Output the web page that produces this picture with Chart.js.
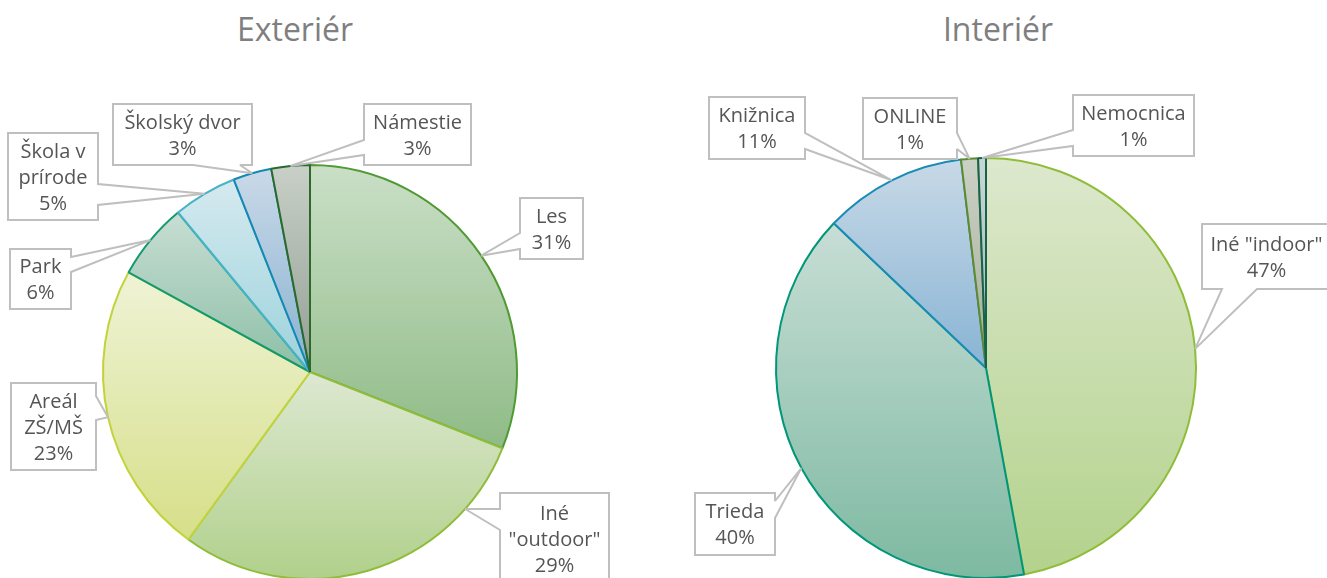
<!DOCTYPE html>
<html>
<head>
<meta charset="utf-8">
<script src="https://cdn.jsdelivr.net/npm/chart.js@4.4.1/dist/chart.umd.min.js"></script>
<style>
    html, body { margin: 0; padding: 0; background: #fff; width: 1327px; height: 578px; overflow: hidden; }
    .title { position: absolute; top: 9px; font-family: 'Open Sans', sans-serif; font-size: 32px; line-height: 40px; color: #7f7f7f; transform: translateX(-50%); white-space: nowrap; }
    .pie-box { position: absolute; top: 0; height: 600px; }
</style>
</head>
<body>
<div class="title" style="left:295px">Exteriér</div>
<div class="title" style="left:998px">Interiér</div>
<div class="pie-box" style="left:0; width:663px"><canvas id="extChart"></canvas></div>
<div class="pie-box" style="left:663px; width:664px"><canvas id="intChart"></canvas></div>
<script>
// Data
const extLabels = ['Les', ['Iné', '"outdoor"'], ['Areál', 'ZŠ/MŠ'], 'Park', ['Škola v', 'prírode'], 'Školský dvor', 'Námestie'];
const extValues = [31, 29, 23, 6, 5, 3, 3];

const intLabels = ['Iné "indoor"', 'Trieda', 'Knižnica', 'ONLINE', 'Nemocnica'];
const intValues = [47.1, 40.0, 11.0, 1.3, 0.6];

// Slice colours: gradient top, gradient bottom, border
const extTop    = ['#cadfc7', '#dde8d1', '#eff3d6', '#c8ded4', '#d5eaef', '#cad9e8', '#c8d0c8'];
const extBottom = ['#8fbb86', '#b0d08a', '#d6df88', '#8cbfa6', '#9cd2dc', '#88b2d0', '#939e93'];
const extBorder = ['#4f9a32', '#8fbd3a', '#c2d33a', '#14996f', '#46b3c6', '#1488b4', '#2b6a2a'];

const intTop    = ['#dde8cd', '#c8ded6', '#c8d9e7', '#cbd1c5', '#c8d6d6'];
const intBottom = ['#b3d28c', '#7db9a1', '#88b4d4', '#a6ae9e', '#a4b8b8'];
const intBorder = ['#8fbd3a', '#009678', '#1a8bb5', '#5c8a2c', '#17624a'];

// Callout boxes (canvas coords): box [x1,y1,x2,y2], side the pointer leaves from, pointer base on that side,
// at = where on the slice arc the pointer lands (0..1)
const extCallouts = [
    { box: [520, 198, 583, 259], side: 'left', base: [233, 249], at: 0.5 },
    { box: [500, 493, 609, 584], side: 'left', base: [509, 530], at: 0.19 },
    { box: [11, 383, 96, 470], side: 'right', base: [396, 420], at: 0.5 },
    { box: [10, 249, 71, 309], side: 'right', base: [257, 272], at: 0.5 },
    { box: [8, 133, 98, 220], side: 'right', base: [184, 205], at: 0.5 },
    { box: [113, 104, 252, 165], side: 'bottom', base: [193, 240], at: 0.5 },
    { box: [364, 104, 471, 165], side: 'left', base: [140, 155], at: 0.5 }
];
const intCallouts = [
    { box: [539, 224, 668, 289], side: 'bottom', base: [559, 594], at: 0.5 },
    { box: [32, 493, 112, 555], side: 'right', base: [501, 518], at: 0.5 },
    { box: [46, 97, 142, 159], side: 'right', base: [133, 149], at: 0.5 },
    { box: [200, 98, 294, 159], side: 'right', base: [133, 149], at: 0.5 },
    { box: [410, 95, 531, 156], side: 'left', base: [130, 146], at: 0.5 }
];

function sliceGradient(context, tops, bottoms) {
    const chart = context.chart;
    const area = chart.chartArea;
    const i = context.dataIndex;
    if (!area) return bottoms[i];
    const data = context.dataset.data;
    const total = data.reduce((a, b) => a + b, 0);
    let before = 0;
    for (let k = 0; k < i; k++) before += data[k];
    const a0 = -Math.PI / 2 + before / total * 2 * Math.PI;
    const a1 = a0 + data[i] / total * 2 * Math.PI;
    const cy = (area.top + area.bottom) / 2;
    const r = Math.min(area.width, area.height) / 2;
    let minY = cy, maxY = cy;
    for (let k = 0; k <= 60; k++) {
        const y = cy + r * Math.sin(a0 + (a1 - a0) * k / 60);
        minY = Math.min(minY, y);
        maxY = Math.max(maxY, y);
    }
    const g = chart.ctx.createLinearGradient(0, minY, 0, maxY + 1);
    g.addColorStop(0, tops[i]);
    g.addColorStop(1, bottoms[i]);
    return g;
}

function calloutPlugin(items) {
    return {
        id: 'callouts',
        afterDatasetsDraw(chart) {
            const c = chart.ctx;
            const meta = chart.getDatasetMeta(0);
            const ds = chart.data.datasets[0];
            const total = ds.data.reduce((a, b) => a + b, 0);
            items.forEach((it, i) => {
                const arc = meta.data[i];
                const p = arc.getProps(['x', 'y', 'startAngle', 'endAngle', 'outerRadius'], true);
                const ang = p.startAngle + (p.endAngle - p.startAngle) * it.at;
                const tx = p.x + p.outerRadius * Math.cos(ang);
                const ty = p.y + p.outerRadius * Math.sin(ang);
                const [x1, y1, x2, y2] = it.box;
                const [b0, b1] = it.base;

                c.save();
                c.beginPath();
                c.moveTo(x1, y1);
                if (it.side === 'top') { c.lineTo(b0, y1); c.lineTo(tx, ty); c.lineTo(b1, y1); }
                c.lineTo(x2, y1);
                if (it.side === 'right') { c.lineTo(x2, b0); c.lineTo(tx, ty); c.lineTo(x2, b1); }
                c.lineTo(x2, y2);
                if (it.side === 'bottom') { c.lineTo(b1, y2); c.lineTo(tx, ty); c.lineTo(b0, y2); }
                c.lineTo(x1, y2);
                if (it.side === 'left') { c.lineTo(x1, b1); c.lineTo(tx, ty); c.lineTo(x1, b0); }
                c.closePath();
                c.fillStyle = '#fff';
                c.fill();
                c.lineWidth = 2;
                c.lineJoin = 'miter';
                c.miterLimit = 2;
                c.strokeStyle = '#bfbfbf';
                c.stroke();

                // label text + percentage
                const lbl = chart.data.labels[i];
                const lines = Array.isArray(lbl) ? lbl.slice() : [lbl];
                lines.push(Math.round(ds.data[i] / total * 100) + '%');
                c.font = '20px "Open Sans", sans-serif';
                c.fillStyle = '#555555';
                c.textAlign = 'center';
                c.textBaseline = 'alphabetic';
                const cx = (x1 + x2) / 2;
                const cy = (y1 + y2) / 2;
                lines.forEach((t, k) => {
                    const lineY = cy + (k - (lines.length - 1) / 2) * 26;
                    c.fillText(t, cx, lineY + 7);
                });
                c.restore();
            });
        }
    };
}

function makePie(id, labels, values, tops, bottoms, borders, callouts, padding) {
    return new Chart(document.getElementById(id), {
        type: 'pie',
        data: {
            labels: labels,
            datasets: [{
                data: values,
                backgroundColor: ctx => sliceGradient(ctx, tops, bottoms),
                borderColor: borders,
                borderWidth: 2
            }]
        },
        options: {
            responsive: true,
            maintainAspectRatio: false,
            animation: false,
            events: [],
            layout: { padding: padding },
            plugins: {
                legend: { display: false },
                tooltip: { enabled: false }
            }
        },
        plugins: [calloutPlugin(callouts)]
    });
}

makePie('extChart', extLabels, extValues, extTop, extBottom, extBorder, extCallouts,
    { left: 102, right: 145, top: 164, bottom: 20 });
makePie('intChart', intLabels, intValues, intTop, intBottom, intBorder, intCallouts,
    { left: 112, right: 130, top: 157, bottom: 21 });
</script>
</body>
</html>
